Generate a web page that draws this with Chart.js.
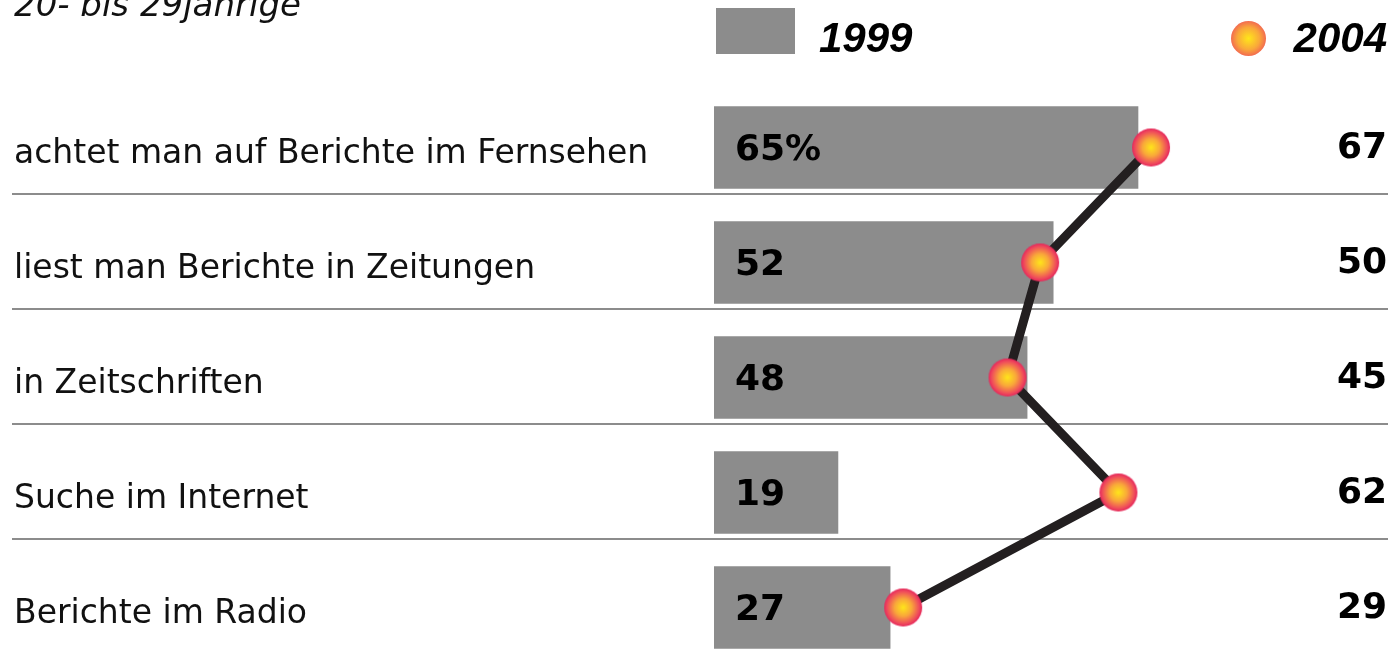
<!DOCTYPE html>
<html>
<head>
<meta charset="utf-8">
<script src="https://cdn.jsdelivr.net/npm/chart.js@4/dist/chart.umd.min.js"></script>
<style>
  html, body { margin: 0; padding: 0; background: #fff; overflow: hidden; width: 1395px; height: 651px; }
  #wrap { position: relative; width: 1395px; height: 700px; }
  #title { position: absolute; left: 14px; top: -16px; line-height: 40px; font: italic 400 34px "DejaVu Sans", sans-serif; color: #111; white-space: nowrap; }
  #legBox { position: absolute; left: 716px; top: 8px; width: 79px; height: 46px; background: #8c8c8c; }
  .legTxt { position: absolute; top: 14px; line-height: 48px; font: italic bold 42px "Liberation Sans", sans-serif; color: #000; }
  #leg1 { left: 819px; }
  #leg2 { right: 8px; }
  #legDot { position: absolute; left: 1231px; top: 21px; width: 35px; height: 35px; border-radius: 50%;
            background: radial-gradient(circle at 50% 50%, #ffe61a 0%, #f9a83a 45%, #ef4a5c 85%, #e5265a 100%); }
  canvas { position: absolute; left: 0; top: 0; }
</style>
</head>
<body>
<div id="wrap">
  <canvas id="chart" width="1395" height="700"></canvas>
  <div id="title">20- bis 29jährige</div>
  <div id="legBox"></div>
  <div id="leg1" class="legTxt">1999</div>
  <div id="legDot"></div>
  <div id="leg2" class="legTxt">2004</div>
</div>
<script>
// data
const categories = [
  'achtet man auf Berichte im Fernsehen',
  'liest man Berichte in Zeitungen',
  'in Zeitschriften',
  'Suche im Internet',
  'Berichte im Radio'
];
const values1999 = [65, 52, 48, 19, 27];
const values2004 = [67, 50, 45, 62, 29];
const barLabels1999 = ['65%', '52', '48', '19', '27'];

// marker bitmap for the 2004 points
const dot = document.createElement('canvas');
dot.width = 40; dot.height = 40;
(() => {
  const c = dot.getContext('2d');
  const g = c.createRadialGradient(20, 20, 0, 20, 20, 19);
  g.addColorStop(0, '#ffe61a');
  g.addColorStop(0.45, '#f9a83a');
  g.addColorStop(0.85, '#ef4a5c');
  g.addColorStop(1, '#e5265a');
  c.beginPath();
  c.arc(20, 20, 19, 0, Math.PI * 2);
  c.fillStyle = g;
  c.fill();
})();

const textPlugin = {
  id: 'texts',
  beforeDatasetsDraw(chart) {
    const { ctx, scales: { y } } = chart;
    ctx.save();
    ctx.strokeStyle = '#8c8c8c';
    ctx.lineWidth = 2;
    for (let i = 0; i < categories.length - 1; i++) {
      const yy = Math.round(y.getPixelForValue(i) + 46);
      ctx.beginPath();
      ctx.moveTo(12, yy);
      ctx.lineTo(1388, yy);
      ctx.stroke();
    }
    ctx.restore();
  },
  afterDatasetsDraw(chart) {
    const { ctx, scales: { y } } = chart;
    ctx.save();
    ctx.fillStyle = '#000';
    ctx.font = 'bold 36px "DejaVu Sans", sans-serif';
    ctx.textBaseline = 'alphabetic';
    categories.forEach((c, i) => {
      const yy = y.getPixelForValue(i) + 12;
      ctx.textAlign = 'left';
      ctx.fillText(barLabels1999[i], 735, yy);
      ctx.textAlign = 'right';
      ctx.fillText(String(values2004[i]), 1387, yy - 2);
    });
    ctx.restore();
  }
};

new Chart(document.getElementById('chart'), {
  data: {
    labels: categories,
    datasets: [
      {
        type: 'line',
        label: '2004',
        data: values2004,
        indexAxis: 'y',
        borderColor: '#231f20',
        borderWidth: 9,
        tension: 0,
        pointStyle: dot,
        pointRadius: 19,
        order: 0
      },
      {
        type: 'bar',
        label: '1999',
        data: values1999,
        indexAxis: 'y',
        backgroundColor: '#8c8c8c',
        barThickness: 82,
        order: 1
      }
    ]
  },
  options: {
    indexAxis: 'y',
    responsive: false,
    animation: false,
    devicePixelRatio: 1,
    layout: { autoPadding: false, padding: { left: 14, right: 0, top: 90, bottom: 35 } },
    plugins: { legend: { display: false }, tooltip: { enabled: false } },
    scales: {
      x: { type: 'linear', min: 0, max: 104.4, display: false },
      y: {
        type: 'category',
        offset: true,
        grid: { display: false },
        border: { display: false },
        ticks: {
          crossAlign: 'far',
          padding: 0,
          labelOffset: 7,
          color: '#111',
          font: { family: 'DejaVu Sans', size: 33, weight: 400 }
        },
        afterFit(scale) { scale.width = 700; }
      }
    }
  },
  plugins: [textPlugin]
});
</script>
</body>
</html>
